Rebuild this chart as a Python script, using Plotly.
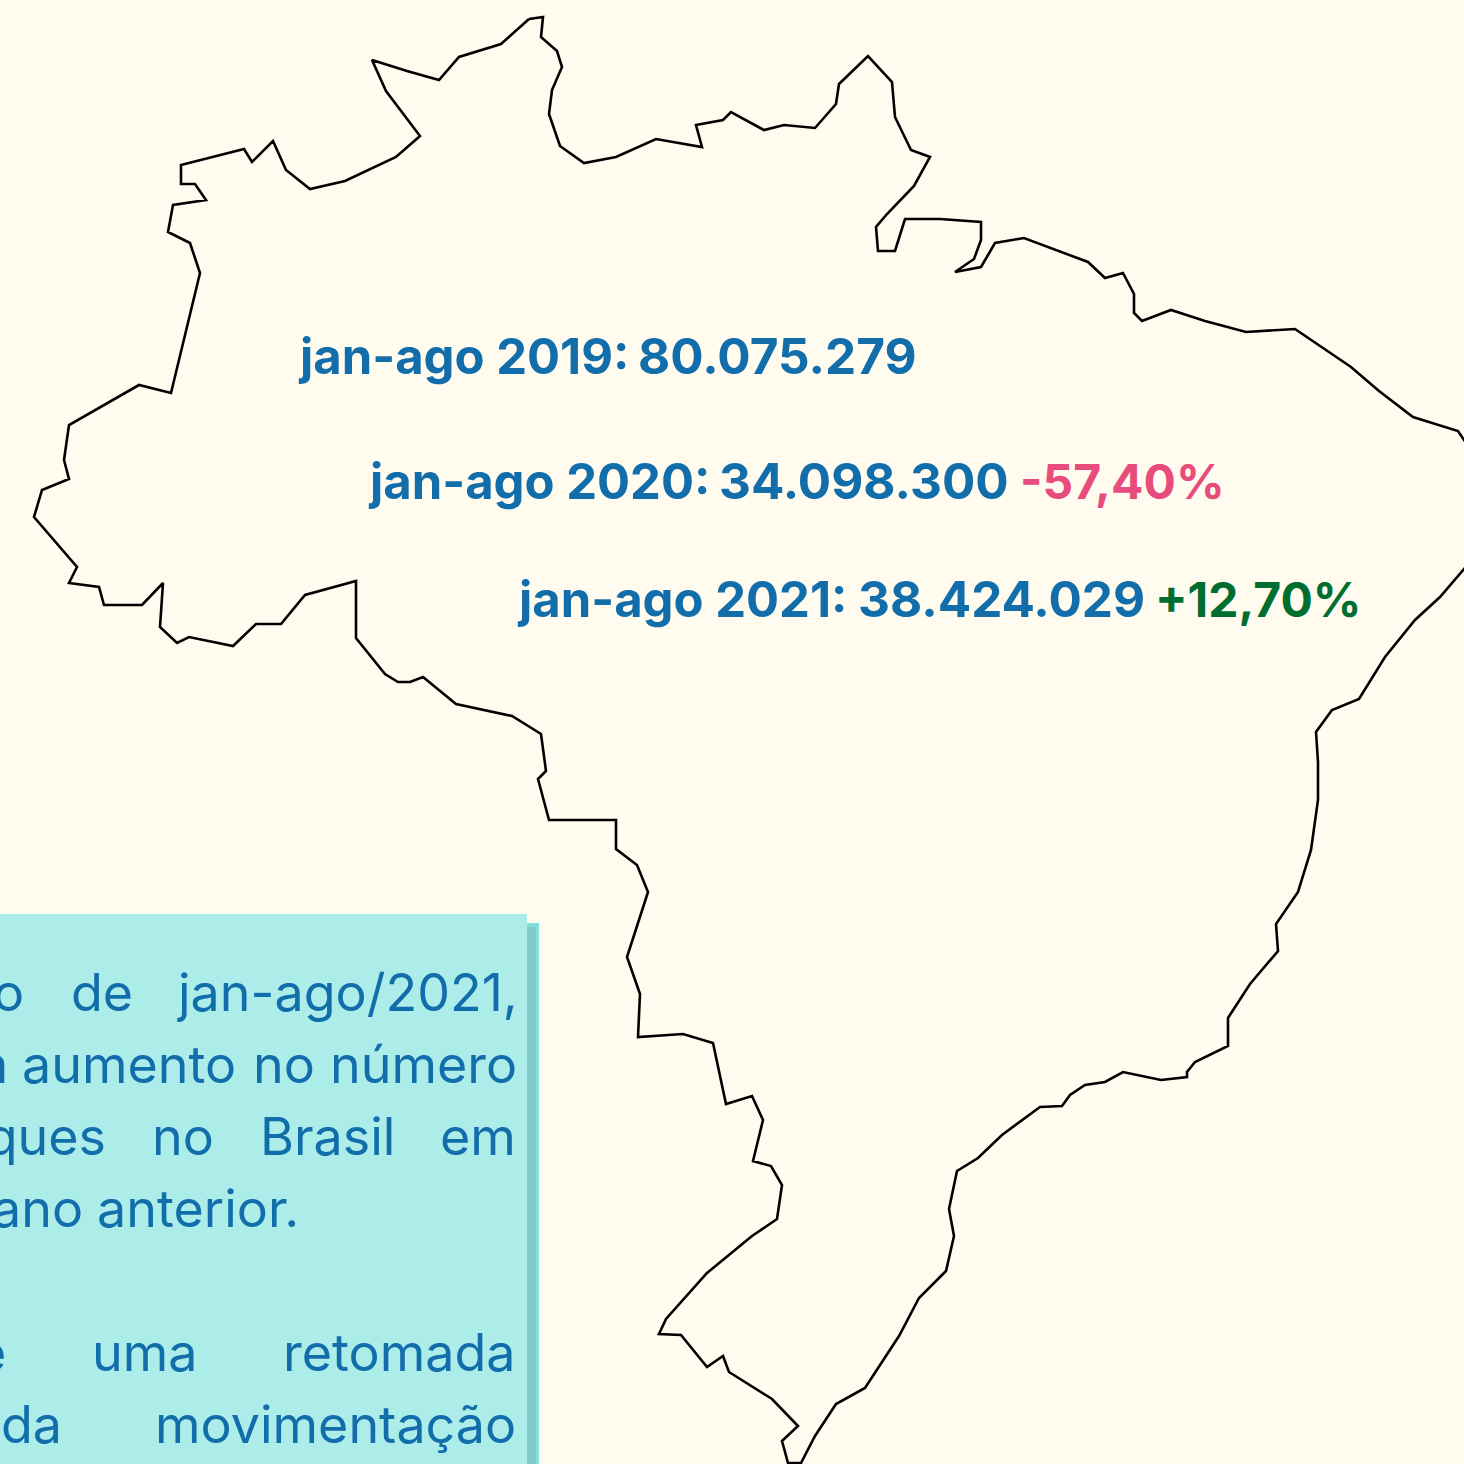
import plotly.graph_objects as go

# Outline of Brazil (horizontal, vertical position on the chart's 1464 grid)
outline_x = [529,543,541,557,562,552,549,560,584,616,656,702,696,723,731,764,784,815,836,839,868,892,895,911,930,914,887,876,878,895,905,940,981,981,974,955,981,995,1024,1088,1105,1123,1134,1134,1142,1171,1205,1246,1295,1351,1379,1413,1458,1470,
             1470,1440,1415,1385,1359,1332,1316,1318,1318,1311,1298,1276,1278,1250,1228,1228,1195,1187,1187,1161,1123,1105,1085,1070,1062,1040,1002,978,957,949,954,946,919,899,865,836,815,801,788,
             782,798,772,729,723,707,681,659,666,707,752,777,782,771,753,763,752,726,713,683,638,640,627,648,637,616,616,549,538,546,541,512,456,423,410,398,385,356,356,305,281,256,233,189,177,160,163,142,104,99,69,77,34,42,69,64,69,139,171,200,190,168,173,206,195,181,181,244,252,273,286,310,345,396,420,386,372,407,439,459,501,529]
outline_y = [19,17,37,51,67,90,114,146,163,157,139,147,125,120,112,130,125,128,104,84,56,82,117,150,157,186,214,227,251,251,219,219,222,240,259,272,267,243,238,262,278,273,294,313,321,310,321,332,329,367,391,417,431,449,
             562,597,620,657,699,710,732,762,800,850,892,924,951,984,1018,1046,1062,1072,1077,1080,1072,1082,1085,1095,1106,1107,1135,1158,1171,1209,1236,1271,1298,1336,1388,1404,1436,1463,1463,
             1441,1426,1399,1372,1356,1367,1335,1334,1319,1273,1236,1219,1185,1166,1161,1120,1096,1104,1043,1034,1037,994,957,892,865,849,820,820,779,771,734,716,704,677,682,682,674,638,581,595,624,624,646,637,643,627,583,605,605,587,583,567,517,490,479,460,425,385,393,273,243,232,205,200,184,184,165,149,162,141,170,189,181,157,136,91,60,71,80,57,44,19]

# Headline figures: label, value, change, and where each piece starts
period_labels = ["jan-ago 2019:", "jan-ago 2020:", "jan-ago 2021:"]
period_values = ["80.075.279", "34.098.300", "38.424.029"]
period_changes = ["", "-57,40%", "+12,70%"]
change_colors = ["#126DAB", "#E84C7D", "#006E2E"]
label_x = [298, 368, 517]
value_x = [638, 719, 858]
change_x = [0, 1020, 1155]
headline_y = [356, 481, 599]

# Justified paragraph: one row per word (text, edge position, edge side)
para_lines = [
    (992, [("o", 24, "right"), ("de", 71, "left"), ("jan-ago/2021,", 518, "right")]),
    (1064, [("um", 8, "right"), ("aumento", 22, "left"), ("no", 253, "left"), ("número", 517, "right")]),
    (1136, [("ataques", 106, "right"), ("no", 152, "left"), ("Brasil", 260, "left"), ("em", 516, "right")]),
    (1208, [("ano", 83, "right"), ("anterior.", 97, "left")]),
    (1352, [("e", 6, "right"), ("uma", 92, "left"), ("retomada", 516, "right")]),
    (1424, [("da", 62, "right"), ("movimentação", 516, "right")]),
]

BLUE = "#126DAB"
FONT = "Inter"

fig = go.Figure()
fig.add_trace(go.Scatter(x=outline_x, y=outline_y, mode="lines",
                         line=dict(color="#000000", width=2.6), hoverinfo="skip", showlegend=False))

def rect(x0, y0, x1, y1, color):
    fig.add_shape(type="rect", xref="x", yref="y", x0=x0, y0=y0, x1=x1, y1=y1,
                  fillcolor=color, line_width=0, layer="above")

rect(527, 923, 539, 1464, "#80E0DC")
rect(527, 927, 536, 1464, "#80CBC6")
rect(0, 914, 527, 1464, "#ADEDE9")

def label(x, y, text, anchor, size, weight, color):
    fig.add_annotation(x=x, y=y, xref="x", yref="y", text=text, showarrow=False, xanchor=anchor, yanchor="middle",
                       borderpad=0, borderwidth=0,
                       font=dict(family=FONT, size=size, color=color, weight=weight))

for i in range(3):
    label(label_x[i], headline_y[i], period_labels[i], "left", 49, 700, BLUE)
    label(value_x[i], headline_y[i], period_values[i], "left", 49.5, 700, BLUE)
    if period_changes[i]:
        label(change_x[i], headline_y[i], period_changes[i], "left", 48, 700, change_colors[i])

for y, words in para_lines:
    for w, x, anchor in words:
        label(x, y, w, anchor, 52, 400, BLUE)

fig.update_layout(width=1464, height=1464, margin=dict(l=0, r=0, t=0, b=0),
                  paper_bgcolor="#FFFBEE", plot_bgcolor="#FFFBEE", showlegend=False,
                  xaxis=dict(range=[0, 1464], visible=False, fixedrange=True),
                  yaxis=dict(range=[1464, 0], visible=False, fixedrange=True))
fig.write_html("out.html", config=dict(displayModeBar=False),
               post_script="document.body.style.margin='0';document.documentElement.style.overflow='hidden';")
